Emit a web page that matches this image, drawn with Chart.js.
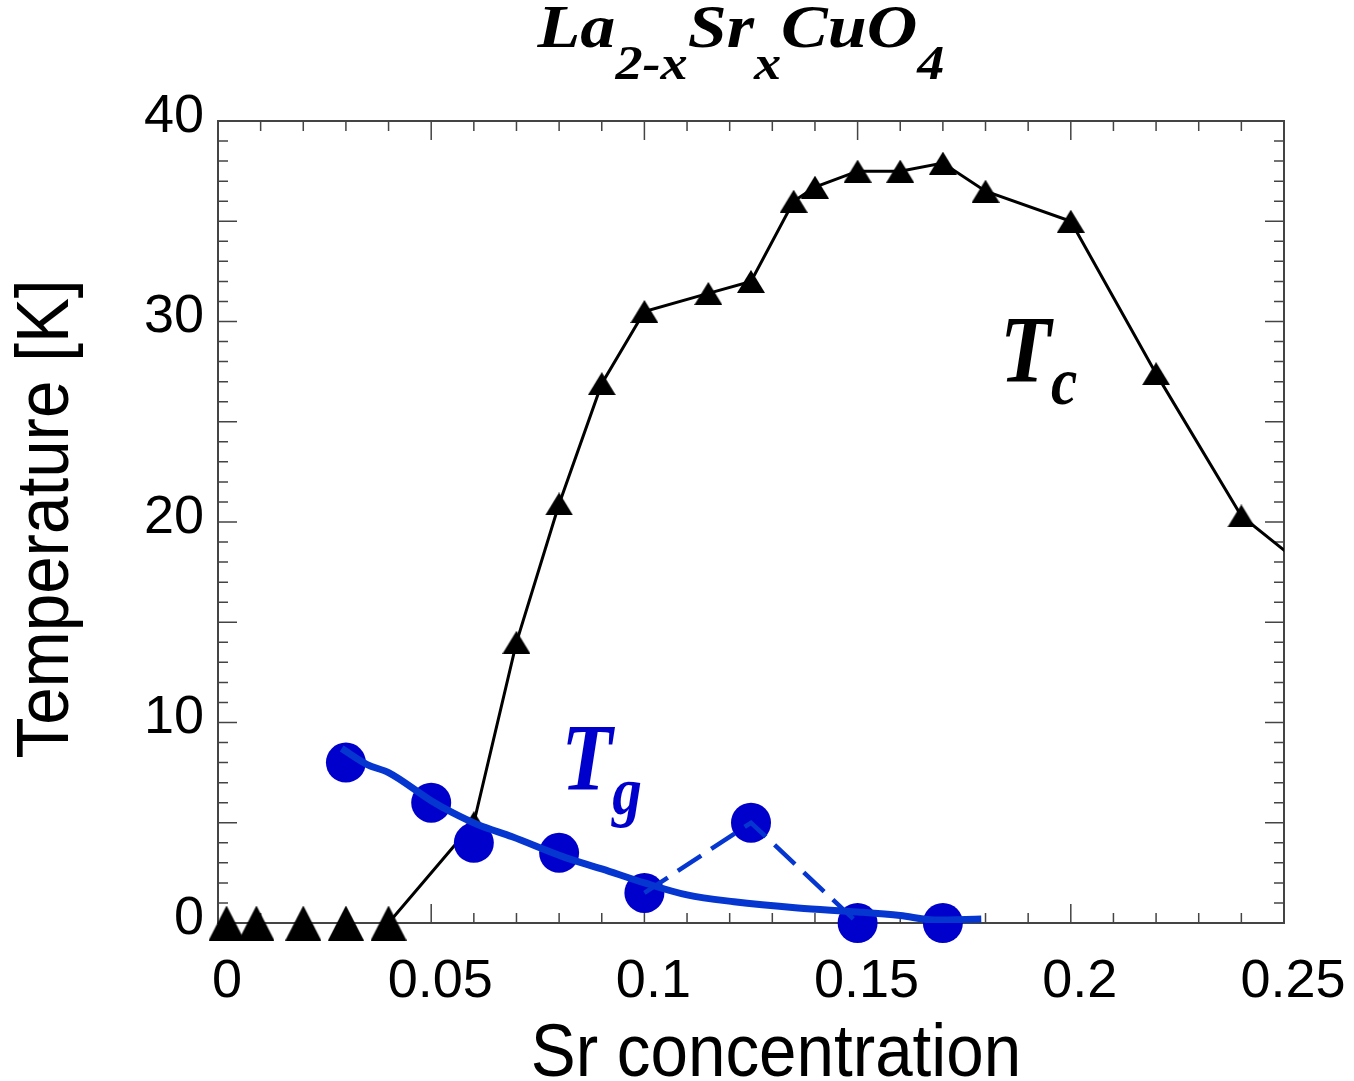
<!DOCTYPE html>
<html>
<head>
<meta charset="utf-8">
<title>La2-xSrxCuO4</title>
<script src="https://cdn.jsdelivr.net/npm/chart.js@4.4.0/dist/chart.umd.min.js"></script>
<style>
  html, body { margin: 0; padding: 0; background: #fff; }
  #wrap { width: 1354px; height: 1081px; }
</style>
</head>
<body>
<div id="wrap"><canvas id="myChart" width="1354" height="1081"></canvas></div>
<script>
// tick labels
const xTickLabels = [0, 0.05, 0.1, 0.15, 0.2, 0.25];
const yTickLabels = [0, 10, 20, 30, 40];

// Tc = 0 samples (big triangles)
const tcZeroX = [0.002, 0.009, 0.02, 0.03, 0.04];
const tcZeroY = [0, 0, 0, 0, 0];

// Tc curve (small triangles joined by a line)
const tcX = [0.04, 0.06, 0.07, 0.08, 0.09, 0.10, 0.115, 0.125, 0.135, 0.14, 0.15, 0.16, 0.17, 0.18, 0.20, 0.22, 0.24, 0.26];
const tcY = [0, 5.0, 14.0, 20.9, 26.9, 30.5, 31.4, 32.0, 36.0, 36.7, 37.5, 37.5, 37.9, 36.5, 35.0, 27.4, 20.3, 16.9];

// Tg measured points
const tgX = [0.03, 0.05, 0.06, 0.08, 0.10, 0.125, 0.15, 0.17];
const tgY = [8.0, 6.0, 4.0, 3.5, 1.5, 5.0, 0, 0];

// Tg dashed branch
const tgDashX = [0.10, 0.125, 0.15];
const tgDashY = [1.5, 5.0, 0];

// Tg smooth guide curve
const tgFitX = [0.029, 0.035, 0.04, 0.05, 0.055, 0.061, 0.069, 0.081, 0.09, 0.10, 0.11, 0.121, 0.136, 0.15, 0.16, 0.168, 0.179];
const tgFitY = [8.7, 7.9, 7.5, 6.1, 5.5, 4.9, 4.3, 3.3, 2.7, 2.0, 1.4, 1.06, 0.75, 0.55, 0.37, 0.15, 0.2];

const BLUE_DOT = '#0000cc';
const BLUE_LINE = '#0536d0';
const SANS = '"Liberation Sans", Arial, sans-serif';
const SERIF = '"Liberation Serif", "Times New Roman", serif';

function zip(xs, ys) {
    return xs.map((x, i) => ({ x: x, y: ys[i] }));
}

// triangle centred on its bounding box
function triangleMarker(w, h) {
    const c = document.createElement('canvas');
    c.width = w;
    c.height = h;
    const g = c.getContext('2d');
    g.fillStyle = '#000';
    g.beginPath();
    g.moveTo(w / 2, 0);
    g.lineTo(w, h);
    g.lineTo(0, h);
    g.closePath();
    g.fill();
    return c;
}

const bigTri = triangleMarker(36, 35);
const smallTri = triangleMarker(28, 23);

// inward ticks on all four sides plus the frame
const frameTicks = {
    id: 'frameTicks',
    beforeDatasetsDraw(chart) {
        const { ctx, chartArea: a, scales: { x, y } } = chart;
        ctx.save();
        ctx.strokeStyle = '#444';
        ctx.lineWidth = 1.5;
        ctx.beginPath();
        for (let i = 0; i <= 25; i++) {
            const px = x.getPixelForValue(i / 100);
            const len = i % 5 === 0 ? 19 : 10;
            ctx.moveTo(px, a.bottom); ctx.lineTo(px, a.bottom - len);
            ctx.moveTo(px, a.top); ctx.lineTo(px, a.top + len);
        }
        for (let i = 0; i <= 40; i++) {
            const py = y.getPixelForValue(i);
            const len = i % 5 === 0 ? 19 : 10;
            ctx.moveTo(a.left, py); ctx.lineTo(a.left + len, py);
            ctx.moveTo(a.right, py); ctx.lineTo(a.right - len, py);
        }
        ctx.stroke();
        ctx.lineWidth = 2;
        ctx.strokeRect(a.left, a.top, a.right - a.left, a.bottom - a.top);
        ctx.restore();
    }
};

// text with subscripts, stretched horizontally by hs
function drawRich(ctx, runs, x, y, mainFont, subFont, subDy, color, align, hs) {
    ctx.save();
    ctx.fillStyle = color;
    ctx.textAlign = 'left';
    ctx.textBaseline = 'alphabetic';
    let total = 0;
    runs.forEach(r => {
        ctx.font = r[1] ? subFont : mainFont;
        total += ctx.measureText(r[0]).width;
    });
    ctx.translate(x, y);
    ctx.scale(hs, 1);
    let cx = align === 'center' ? -total / 2 : 0;
    runs.forEach(r => {
        ctx.font = r[1] ? subFont : mainFont;
        ctx.fillText(r[0], cx, r[1] ? subDy : 0);
        cx += ctx.measureText(r[0]).width;
    });
    ctx.restore();
}

const textLabels = {
    id: 'textLabels',
    afterDraw(chart) {
        const { ctx, scales: { x, y } } = chart;
        ctx.save();
        drawRich(ctx, [['La', 0], ['2-x', 1], ['Sr', 0], ['x', 1], ['CuO', 0], ['4', 1]],
            741, 47, 'bold italic 62px ' + SERIF, 'bold italic 48px ' + SERIF, 32, '#000', 'center', 1.13);
        drawRich(ctx, [['T', 0], ['c', 1]], x.getPixelForValue(0.1834), y.getPixelForValue(27.0),
            'bold italic 96px ' + SERIF, 'bold italic 68px ' + SERIF, 22, '#000', 'left', 0.87);
        drawRich(ctx, [['T', 0], ['g', 1]], x.getPixelForValue(0.0805), y.getPixelForValue(6.63),
            'bold italic 96px ' + SERIF, 'bold italic 68px ' + SERIF, 24, BLUE_DOT, 'left', 0.87);

        ctx.fillStyle = '#000';
        ctx.font = '74px ' + SANS;
        ctx.textAlign = 'center';
        ctx.textBaseline = 'alphabetic';
        ctx.save();
        ctx.translate(776, 1076);
        ctx.scale(0.91, 1);
        ctx.fillText('Sr concentration', 0, 0);
        ctx.restore();
        ctx.save();
        ctx.translate(68, 519);
        ctx.rotate(-Math.PI / 2);
        ctx.scale(0.91, 1);
        ctx.fillText('Temperature [K]', 0, 0);
        ctx.restore();
        ctx.restore();
    }
};

const ctx = document.getElementById('myChart').getContext('2d');
const myChart = new Chart(ctx, {
    type: 'scatter',
    data: {
        datasets: [
            {
                label: 'Tg fit',
                data: zip(tgFitX, tgFitY),
                showLine: true,
                borderColor: BLUE_LINE,
                borderWidth: 7,
                cubicInterpolationMode: 'monotone',
                pointRadius: 0,
                order: 0
            },
            {
                label: 'Tg dashed',
                data: zip(tgDashX, tgDashY),
                showLine: true,
                borderColor: BLUE_LINE,
                borderWidth: 4.5,
                borderDash: [28, 12],
                pointRadius: 0,
                clip: false,
                order: 1
            },
            {
                label: 'Tg',
                data: zip(tgX, tgY),
                showLine: false,
                pointStyle: 'circle',
                pointRadius: 20,
                backgroundColor: BLUE_DOT,
                borderWidth: 0,
                clip: false,
                order: 2
            },
            {
                label: 'Tc',
                data: zip(tcX, tcY),
                showLine: true,
                borderColor: '#000',
                borderWidth: 3,
                pointStyle: smallTri,
                pointRadius: tcX.map((v, i) => i === 0 ? 0 : 12),
                order: 3
            },
            {
                label: 'Tc zero',
                data: zip(tcZeroX, tcZeroY),
                showLine: false,
                pointStyle: bigTri,
                pointRadius: 16,
                clip: false,
                order: 4
            }
        ]
    },
    options: {
        responsive: false,
        animation: false,
        events: [],
        layout: { padding: { left: 0, right: 70, top: 121, bottom: 0 } },
        plugins: {
            legend: { display: false },
            tooltip: { enabled: false },
            title: { display: false }
        },
        scales: {
            x: {
                type: 'linear',
                min: 0,
                max: 0.25,
                afterBuildTicks: scale => { scale.ticks = xTickLabels.map(v => ({ value: v })); },
                afterFit: scale => {
                    scale.height = 158;
                    scale.paddingLeft = 0;
                    scale.paddingRight = 0;
                },
                grid: { display: false, drawTicks: false },
                border: { display: false },
                ticks: {
                    callback: v => String(v),
                    font: { family: SANS, size: 54 },
                    color: '#000',
                    padding: 27,
                    labelOffset: 9,
                    maxRotation: 0,
                    autoSkip: false
                }
            },
            y: {
                type: 'linear',
                min: 0,
                max: 40,
                afterBuildTicks: scale => { scale.ticks = yTickLabels.map(v => ({ value: v })); },
                afterFit: scale => {
                    scale.width = 218;
                    scale.paddingTop = 0;
                    scale.paddingBottom = 0;
                },
                grid: { display: false, drawTicks: false },
                border: { display: false },
                ticks: {
                    callback: v => String(v),
                    font: { family: SANS, size: 54 },
                    color: '#000',
                    padding: 14,
                    labelOffset: -4,
                    autoSkip: false
                }
            }
        }
    },
    plugins: [frameTicks, textLabels]
});
</script>
</body>
</html>
